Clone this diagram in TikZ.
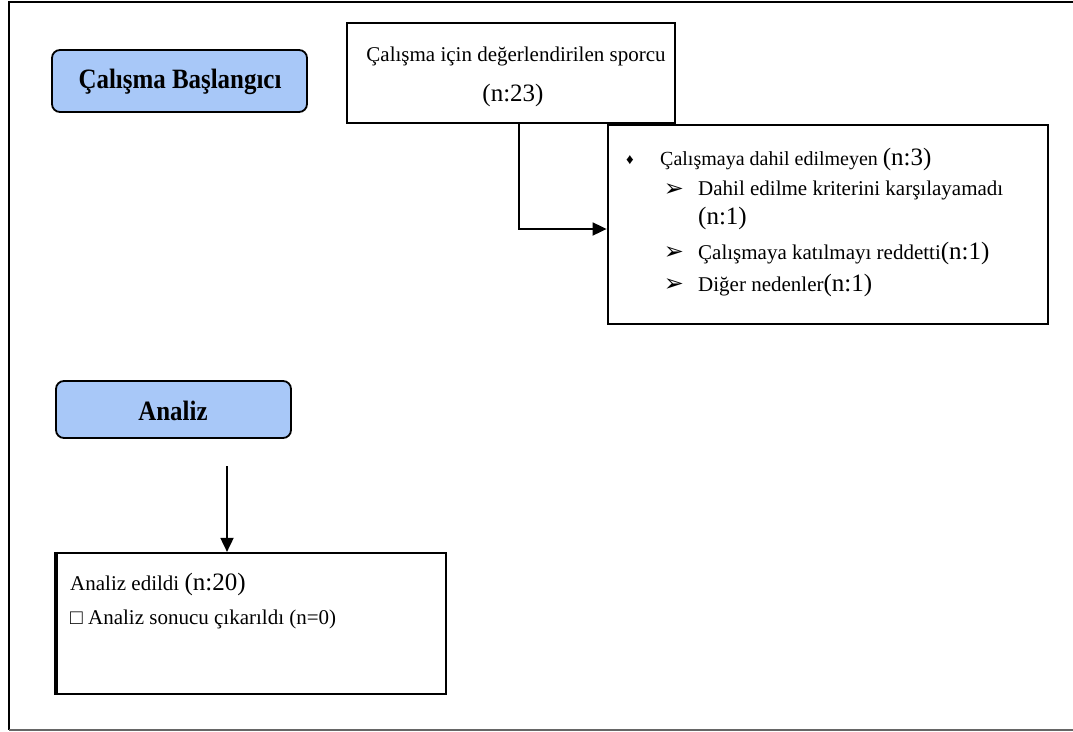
\documentclass[tikz,border=0pt]{standalone}
\usepackage{fontspec}
\setmainfont{Liberation Serif}
\newfontfamily\djv{DejaVu Sans}
\usetikzlibrary{arrows.meta}
\definecolor{phaseblue}{HTML}{A8C8F8}
\tikzset{
  phase/.style={draw=black, line width=1.8pt, rounded corners=8pt, fill=phaseblue, inner sep=0pt},
  plainbox/.style={draw=black, line width=2.2pt, fill=white, inner sep=0pt},
  thickbox/.style={draw=black, line width=2.8pt, fill=white, inner sep=0pt},
  txt/.style={anchor=west, inner sep=0pt, font=\fontsize{21}{24}\selectfont},
  ctxt/.style={anchor=center, inner sep=0pt, font=\fontsize{21}{24}\selectfont},
  big/.style={font=\fontsize{25}{27}\selectfont},
  phasetxt/.style={inner sep=0pt, font=\fontsize{28}{30}\selectfont\bfseries},
  arrowmark/.style={anchor=center, inner sep=0pt, font=\djv\fontsize{24}{25}\selectfont},
  conn/.style={line width=1.8pt, -{Triangle[length=14pt,width=13pt]}},
}
\newcommand{\bigp}[1]{{\fontsize{25}{27}\selectfont #1}}
\begin{document}
\begin{tikzpicture}[x=1pt,y=-1pt]
\useasboundingbox (0,0) rectangle (1073,731);
% outer frame
\draw[line width=2.2pt] (1073,2) -- (9,2) -- (9,730);
\draw[line width=1.5pt, black!60] (9,730) -- (1073,730);

% phase boxes
\node[phase, minimum width=255pt, minimum height=62pt] (start) at (179.5,81) {};
\node[phasetxt] (starttxt) at (180,82) {\scalebox{0.89}[1]{Çalışma Başlangıcı}};
\node[phase, minimum width=235pt, minimum height=57pt] (analiz) at (173.5,409.5) {};
\node[phasetxt] (analiztxt) at (173,411) {\scalebox{0.89}[1]{Analiz}};

% assessed box
\node[plainbox, minimum width=328pt, minimum height=100pt] (assessed) at (511,73) {};
\node[ctxt] (a1) at (516,56) {Çalışma için değerlendirilen sporcu};
\node[ctxt, big] (a2) at (513,95) {(n:23)};

% excluded box
\node[thickbox, minimum width=440pt, minimum height=199pt] (excl) at (828,224.5) {};
\node[anchor=center, inner sep=0pt, font=\fontsize{15}{16}\selectfont] (b0) at (630,160) {♦};
\node[txt, font=\fontsize{20}{22}\selectfont] (b1) at (660,159) {Çalışmaya dahil edilmeyen \bigp{(n:3)}};
\node[arrowmark] (b2a) at (674,190) {➢};
\node[txt] (b2) at (698,190) {Dahil edilme kriterini karşılayamadı};
\node[txt, big] (b2b) at (698,218) {(n:1)};
\node[arrowmark] (b3a) at (674,253) {➢};
\node[txt] (b3) at (698,253) {Çalışmaya katılmayı reddetti\bigp{(n:1)}};
\node[arrowmark] (b4a) at (674,285) {➢};
\node[txt] (b4) at (698,285) {Diğer nedenler\bigp{(n:1)}};

% analysed box
\node[plainbox, minimum width=389pt, minimum height=141pt] (done) at (251.5,623.5) {};
\draw[line width=3.4pt] (done.north west) -- (done.south west);
\node[txt] (c1) at (70,584) {Analiz edildi \bigp{(n:20)}};
\node[txt] (c2) at (70,619) {□ Analiz sonucu çıkarıldı (n=0)};

% connectors
\coordinate (bend) at (519,229);
\draw[conn] (assessed.south -| bend) -- (bend) -- (excl.west |- bend);
\coordinate (arrtop) at (227,466);
\draw[conn] (arrtop) -- (done.north -| arrtop);
\end{tikzpicture}
\end{document}
